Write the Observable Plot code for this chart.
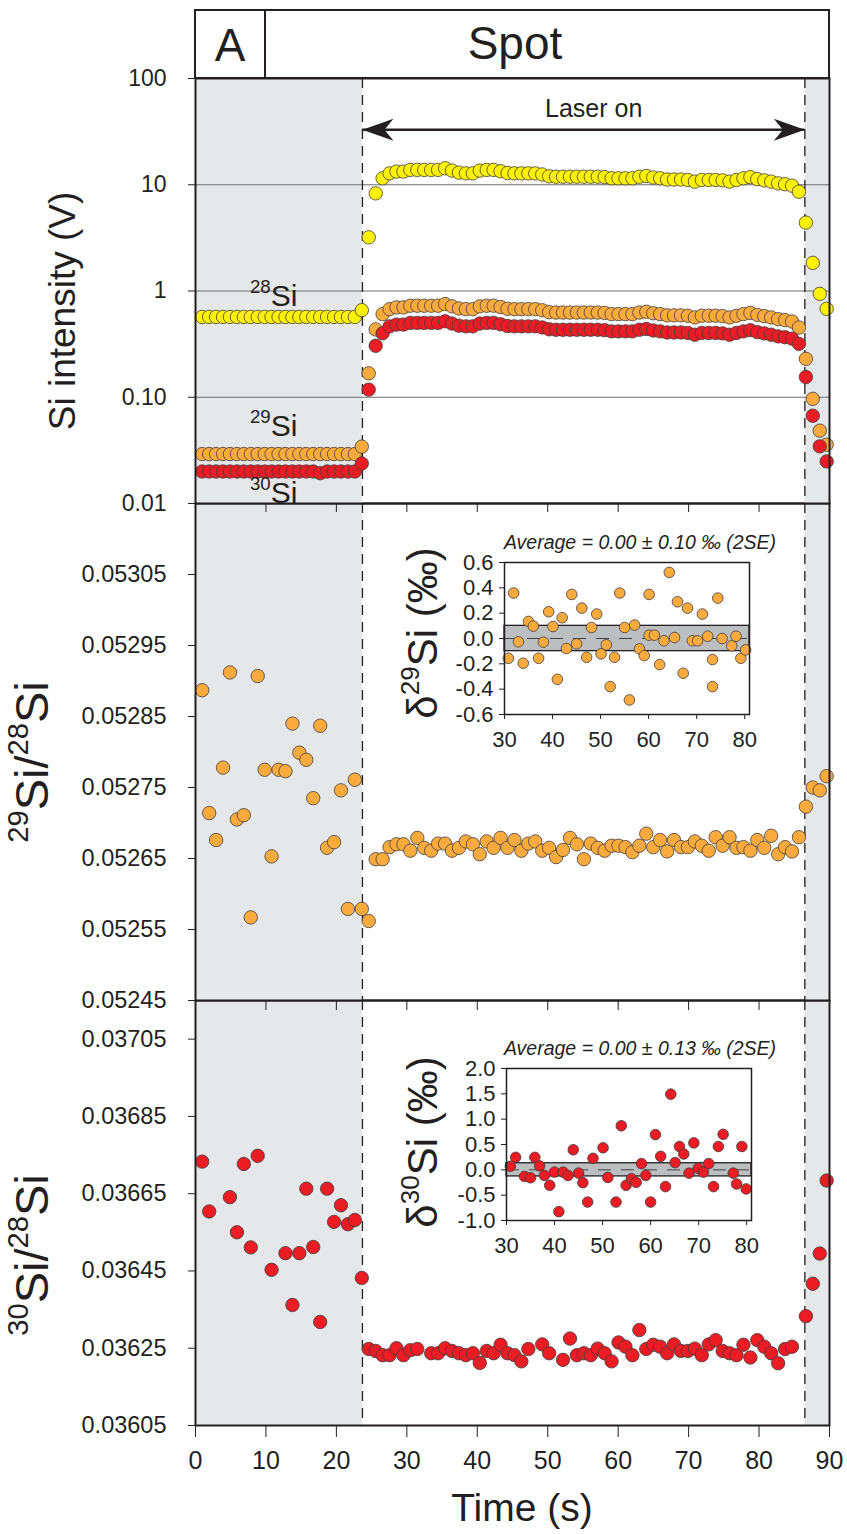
<!DOCTYPE html>
<html><head><meta charset="utf-8"><title>Si isotope laser ablation spot</title>
<script src="https://cdn.jsdelivr.net/npm/d3@7"></script>
<script src="https://cdn.jsdelivr.net/npm/@observablehq/plot@0.6"></script>
<style>
html,body{margin:0;padding:0;background:#fff;}
#chart{position:relative;width:847px;height:1534px;overflow:hidden;}
</style></head><body><div id="chart"></div>
<script>
// ---------------- data ----------------
const time = [0.95,1.94,2.92,3.91,4.89,5.88,6.86,7.85,8.83,9.82,10.80,11.79,12.77,13.76,14.74,15.73,16.71,17.70,18.68,19.67,
  20.65,21.64,22.62,23.61,24.59,25.58,26.56,27.55,28.53,29.52,30.50,31.49,32.47,33.46,34.44,35.43,36.41,37.40,38.38,39.37,
  40.35,41.34,42.32,43.31,44.29,45.28,46.26,47.25,48.23,49.22,50.20,51.19,52.17,53.16,54.14,55.13,56.11,57.10,58.08,59.07,
  60.05,61.04,62.02,63.01,63.99,64.98,65.96,66.95,67.93,68.92,69.90,70.89,71.87,72.86,73.84,74.83,75.81,76.80,77.78,78.77,
  79.75,80.74,81.72,82.71,83.69,84.68,85.66,86.65,87.63,88.62,89.60];

const si28 = [0.57,0.57,0.57,0.57,0.57,0.57,0.57,0.57,0.57,0.57,0.57,0.57,0.57,0.57,0.57,0.57,0.57,0.57,0.57,0.57,0.57,0.57,0.57,
  0.66,3.2,8.3,
  11.5,12.8,13.3,13.3,13.8,13.8,13.8,13.8,13.8,14.3,
  13.6,13.0,12.8,12.8,13.6,13.8,13.8,13.4,12.9,12.8,
  12.8,12.8,12.8,12.5,12.0,11.9,11.9,11.9,11.9,11.9,
  11.9,11.9,11.8,11.5,11.5,11.5,11.5,11.9,12.1,11.7,
  11.5,11.2,11.2,11.2,11.1,10.7,11.1,11.1,11.1,11.0,
  10.7,11.1,11.5,11.8,11.3,11.0,10.7,10.3,10.1,9.8,
  8.6,4.4,1.84,0.94,0.68];

const si29 = [0.0292,0.0292,0.0292,0.0292,0.0292,0.0292,0.0292,0.0292,0.0292,0.0292,0.0292,0.0292,0.0292,0.0292,0.0292,0.0292,0.0292,0.0292,0.0292,0.0292,0.0292,0.0292,0.0292,
  0.0343,0.168,0.435,
  0.606,0.675,0.701,0.701,0.727,0.727,0.727,0.727,0.727,0.754,
  0.717,0.685,0.675,0.675,0.717,0.727,0.727,0.706,0.680,0.675,
  0.675,0.675,0.675,0.659,0.632,0.627,0.627,0.627,0.627,0.627,
  0.627,0.627,0.622,0.606,0.606,0.606,0.606,0.627,0.638,0.617,
  0.606,0.590,0.590,0.590,0.585,0.564,0.585,0.585,0.585,0.580,
  0.564,0.585,0.606,0.622,0.596,0.580,0.564,0.543,0.532,0.516,
  0.453,0.230,0.0966,0.0485,0.0358];

const si30 = [0.0200,0.0200,0.0200,0.0200,0.0200,0.0200,0.0200,0.0200,0.0200,0.0200,0.0200,0.0200,0.0200,0.0200,0.0200,0.0200,0.0200,0.0193,0.0200,0.0200,0.0200,0.0200,0.0200,
  0.0238,0.118,0.305,
  0.400,0.465,0.483,0.483,0.501,0.501,0.501,0.501,0.501,0.519,
  0.494,0.472,0.465,0.465,0.494,0.501,0.501,0.486,0.468,0.465,
  0.465,0.465,0.465,0.454,0.436,0.432,0.432,0.432,0.432,0.432,
  0.432,0.432,0.428,0.417,0.417,0.417,0.417,0.432,0.439,0.425,
  0.417,0.407,0.407,0.407,0.403,0.388,0.403,0.403,0.403,0.399,
  0.388,0.403,0.417,0.428,0.410,0.399,0.388,0.374,0.367,0.356,
  0.318,0.155,0.067,0.0345,0.0249];

const ratio29 = [0.052887,0.052714,0.052676,0.052778,0.052912,0.052705,0.052711,0.052567,0.052907,0.052775,
  0.052653,0.052775,0.052773,0.052840,0.052799,0.052789,0.052735,0.052837,0.052665,0.052673,
  0.052746,0.052579,0.052761,0.052579,0.052562,
  0.052649,0.052649,0.052666,0.052670,0.052670,0.052661,0.052679,0.052665,0.052661,0.052671,
  0.052671,0.052661,0.052665,0.052674,0.052670,0.052656,0.052674,0.052665,0.052679,0.052665,
  0.052676,0.052661,0.052671,0.052674,0.052661,0.052665,0.052652,0.052662,0.052679,0.052670,
  0.052649,0.052671,0.052665,0.052661,0.052668,0.052668,0.052666,0.052659,0.052668,0.052685,
  0.052666,0.052676,0.052660,0.052676,0.052666,0.052666,0.052674,0.052668,0.052661,0.052680,
  0.052668,0.052680,0.052665,0.052666,0.052661,0.052676,0.052665,0.052682,0.052656,0.052666,
  0.052660,0.052680,
  0.052723,0.052750,0.052746,0.052766];

const ratio30 = [0.036733,0.036604,null,null,0.036641,0.036550,0.036727,0.036511,0.036748,null,
  0.036453,null,0.036496,0.036362,0.036496,0.036663,0.036512,0.036318,0.036663,0.036577,
  0.036620,0.036571,0.036582,0.036432,
  0.036248,0.036243,0.036232,0.036232,0.036250,0.036232,0.036245,0.036248,null,0.036237,
  0.036237,0.036250,0.036243,0.036237,0.036232,0.036237,0.036212,0.036243,0.036237,0.036259,
  0.036237,0.036232,0.036216,0.036248,null,0.036260,0.036237,null,0.036220,0.036275,
  0.036232,0.036237,0.036232,0.036249,0.036237,0.036216,0.036265,0.036254,0.036232,0.036297,
  0.036248,0.036259,0.036254,0.036237,0.036260,0.036243,0.036243,0.036249,0.036232,0.036260,
  0.036271,0.036243,0.036237,0.036232,0.036259,0.036226,0.036271,0.036254,0.036237,0.036211,
  0.036248,0.036254,null,
  0.036333,0.036417,0.036495,0.036684];

const d29Time = [30.8,31.9,32.9,33.9,35.0,36.0,37.1,38.1,39.2,40.1,41.0,42.0,42.9,44.0,45.0,46.1,47.1,48.1,49.2,50.1,
  51.2,52.0,52.9,54.0,55.0,56.0,57.1,58.1,59.1,60.1,60.1,61.2,62.3,63.2,64.3,65.4,66.0,67.2,68.1,69.1,
  70.2,71.2,72.3,73.3,73.3,74.4,75.3,77.3,78.2,79.2,80.2];
const d29Value = [-0.156,0.359,-0.026,-0.195,0.135,0.098,-0.156,-0.029,0.211,0.095,-0.322,0.164,-0.079,0.348,-0.042,0.240,-0.148,0.087,0.193,-0.121,
  -0.050,-0.380,-0.148,0.359,0.087,-0.485,0.106,-0.082,-0.135,0.348,0.026,0.026,-0.206,-0.018,0.522,0.008,0.290,-0.274,0.240,-0.018,
  -0.018,0.193,0.018,-0.166,-0.380,0.319,0.000,-0.058,0.018,-0.156,-0.090];

const d30Time = [30.8,31.9,33.75,35.0,35.9,36.9,37.9,39.0,40.0,40.9,41.8,42.8,43.9,45.0,45.9,46.9,48.0,50.1,51.1,52.8,
  53.9,54.9,56.0,57.0,58.1,59.0,60.0,61.0,62.1,63.1,64.2,65.1,66.0,66.9,68.0,69.0,69.9,71.0,72.1,73.1,
  74.1,75.1,77.2,77.9,79.0,79.9];
const d30Value = [0.071,0.247,-0.130,-0.156,0.247,0.078,-0.110,-0.305,-0.045,-0.825,-0.045,-0.110,0.396,-0.065,-0.253,-0.636,0.227,0.435,-0.149,-0.636,
  0.870,-0.305,-0.175,-0.247,0.123,-0.110,-0.636,0.695,0.266,-0.331,1.494,0.143,0.461,0.312,-0.065,0.532,0.032,-0.045,0.123,-0.331,
  0.461,0.701,-0.065,-0.279,0.461,-0.377];

const xTicks = [0,10,20,30,40,50,60,70,80,90];
const intensityTicks = [0.01,0.1,1,10,100];
const intensityTickLabels = ["0.01","0.10","1","10","100"];
const intensityGrid = [0.1,1,10];
const ratio29Ticks = [0.05245,0.05255,0.05265,0.05275,0.05285,0.05295,0.05305];
const ratio30Ticks = [0.03605,0.03625,0.03645,0.03665,0.03685,0.03705];
const d29Ticks = [-0.6,-0.4,-0.2,0,0.2,0.4,0.6];
const d30Ticks = [-1,-0.5,0,0.5,1,1.5,2];
const insetXTicks = [30,40,50,60,70,80];
const boundaries = [23.7, 86.5];
const shade = [{x1: 0, x2: 23.7}, {x1: 86.5, x2: 90}];
const laser = [{start: 23.7, end: 86.5, level: 33, label: "Laser on"}];
const d29Band = [{lo: -0.10, hi: 0.10}];
const d30Band = [{lo: -0.13, hi: 0.13}];

// ---------------- styles ----------------
const INK = "#231f20";
const YELLOW = "#fff200", ORANGE = "#fbab3e", RED = "#ec1c24", GREY = "#e6e7e8";
const FONT = '"Liberation Sans", Arial, Helvetica, sans-serif';
const NARROW = '"Liberation Sans Narrow", "Liberation Sans", Arial, sans-serif';
const dotStyle = (fill, r = 6.7) => ({r, fill, stroke: "#3c3c3c", strokeWidth: 0.8});

const series = time.map((t, i) => ({t, si28: si28[i], si29: si29[i], si30: si30[i], r29: ratio29[i], r30: ratio30[i]}));
const d29 = d29Time.map((t, i) => ({t, v: d29Value[i]}));
const d30 = d30Time.map((t, i) => ({t, v: d30Value[i]}));

const arrowRight = {draw(c) { c.moveTo(0, 0); c.lineTo(-31, -11); c.lineTo(-22, 0); c.lineTo(-31, 11); c.closePath(); }};
const arrowLeft = {draw(c) { c.moveTo(0, 0); c.lineTo(31, -11); c.lineTo(22, 0); c.lineTo(31, 11); c.closePath(); }};

const W = 847, ML = 195, MR = 18;
const base = (height, mt, mb) => ({
  width: W, height, marginLeft: ML, marginRight: MR, marginTop: mt, marginBottom: mb,
  x: {domain: [0, 90]},
  style: {background: "transparent", overflow: "visible", fontFamily: FONT, color: INK}
});
const chart = document.getElementById("chart");
function place(svg, left, top, z) {
  svg.style.position = "absolute";
  svg.style.left = left + "px";
  svg.style.top = top + "px";
  svg.style.zIndex = z;
  svg.style.maxWidth = "none";
  chart.appendChild(svg);
}
const backdrop = [
  Plot.rect(shade, {x1: "x1", x2: "x2", fill: GREY}),
];
const dashed = Plot.ruleX(boundaries, {stroke: INK, strokeWidth: 1.3, strokeDasharray: "10,7"});

// ---------------- panel 1: intensities ----------------
const p1 = Plot.plot({
  ...base(445, 10, 10),
  y: {type: "log", domain: [0.01, 100]},
  marks: [
    ...backdrop,
    Plot.ruleY(intensityGrid, {stroke: "#6d6e71", strokeWidth: 1}),
    dashed,
    Plot.ruleY(laser, {y: "level", x1: "start", x2: "end", stroke: INK, strokeWidth: 2.5}),
    Plot.dot(laser, {x: "start", y: "level", symbol: arrowLeft, fill: INK, stroke: "none"}),
    Plot.dot(laser, {x: "end", y: "level", symbol: arrowRight, fill: INK, stroke: "none"}),
    Plot.text(laser, {x: d => (d.start + d.end) / 2, y: "level", text: "label", dx: 10, dy: -21, fontSize: 25, fill: INK}),
    Plot.dot(series, {x: "t", y: "si28", ...dotStyle(YELLOW)}),
    Plot.dot(series, {x: "t", y: "si29", ...dotStyle(ORANGE)}),
    Plot.dot(series, {x: "t", y: "si30", ...dotStyle(RED)}),
    Plot.axisY({ticks: intensityTicks, tickFormat: d => intensityTickLabels[intensityTicks.indexOf(d)], tickSize: 7, tickPadding: 22, fontSize: 23, label: null}),
    Plot.axisX({ticks: xTicks, tickSize: 9, tickFormat: () => "", label: null}),
    Plot.frame({stroke: INK, strokeWidth: 2})
  ]
});
place(p1, 0, 68, 3);

// ---------------- panel 2: 29Si/28Si ----------------
const p2 = Plot.plot({
  ...base(519, 10, 12),
  y: {domain: [0.05245, 0.05315]},
  marks: [
    ...backdrop,
    dashed,
    Plot.dot(series, {x: "t", y: "r29", ...dotStyle(ORANGE)}),
    Plot.axisY({ticks: ratio29Ticks, tickFormat: d => d.toFixed(5), tickSize: 7, tickPadding: 22, fontSize: 23.5, label: null}),
    Plot.axisX({ticks: xTicks, tickSize: 10, tickFormat: () => "", label: null}),
    Plot.frame({stroke: INK, strokeWidth: 2})
  ]
});
place(p2, 0, 493, 2);

// ---------------- panel 3: 30Si/28Si ----------------
const p3 = Plot.plot({
  ...base(535, 10, 100),
  y: {domain: [0.03605, 0.03715]},
  marks: [
    ...backdrop,
    dashed,
    Plot.dot(series, {x: "t", y: "r30", ...dotStyle(RED)}),
    Plot.axisY({ticks: ratio30Ticks, tickFormat: d => d.toFixed(5), tickSize: 7, tickPadding: 22, fontSize: 23.5, label: null}),
    Plot.axisX({ticks: xTicks, tickSize: 12, tickPadding: 14, fontSize: 25, fontFamily: NARROW, label: null}),
    Plot.frame({stroke: INK, strokeWidth: 2})
  ]
});
place(p3, 0, 990, 1);

// ---------------- insets ----------------
function inset(data, band, yDomain, yTicks, fill, yFmt) {
  return Plot.plot({
    width: 345, height: 222, marginLeft: 60, marginRight: 40, marginTop: 30, marginBottom: 40,
    x: {domain: [30, 81]}, y: {domain: yDomain},
    style: {background: "transparent", overflow: "visible", fontFamily: FONT, color: INK},
    marks: [
      Plot.rect(band, {y1: "lo", y2: "hi", fill: "#bcbec0", stroke: INK, strokeWidth: 1.3}),
      Plot.ruleY([0], {stroke: "#414042", strokeWidth: 1, strokeDasharray: "13,10"}),
      Plot.dot(data, {x: "t", y: "v", ...dotStyle(fill, 5.3)}),
      Plot.axisY({ticks: yTicks, tickFormat: yFmt, tickSize: 5, tickPadding: 6, fontSize: 22, label: null}),
      Plot.axisX({ticks: insetXTicks, tickSize: 5, tickPadding: 12, fontSize: 22, label: null}),
      Plot.frame({stroke: INK, strokeWidth: 1.5})
    ]
  });
}
place(inset(d29, d29Band, [-0.6, 0.6], d29Ticks, ORANGE, d => d.toFixed(1)), 444, 532, 4);
place(inset(d30, d30Band, [-1, 2], d30Ticks, RED, d => d.toFixed(1)), 446, 1038, 4);

// ---------------- text overlay (titles, labels) ----------------
const ov = d3.select(chart).append("svg")
  .attr("width", W).attr("height", 1534)
  .style("position", "absolute").style("left", "0px").style("top", "0px").style("z-index", 10)
  .style("pointer-events", "none").style("overflow", "visible")
  .attr("font-family", FONT).attr("fill", INK);

function rich(parent, {x, y, size, anchor = "start", rotate = 0, italic = false, parts, family, supScale = 0.62}) {
  const t = parent.append("text")
    .attr("transform", `translate(${x},${y}) rotate(${rotate})`)
    .attr("text-anchor", anchor).attr("font-size", size).attr("fill", INK);
  if (italic) t.attr("font-style", "italic");
  if (family) t.attr("font-family", family);
  let shift = 0;
  for (const [s, sup] of parts) {
    const want = sup ? -0.42 * size : 0;
    t.append("tspan").attr("font-size", sup ? size * supScale : size).attr("dy", want - shift).text(s);
    shift = want;
  }
  return t;
}

// header box
ov.append("rect").attr("x", 195).attr("y", 10).attr("width", 634).attr("height", 68)
  .attr("fill", "white").attr("stroke", INK).attr("stroke-width", 2);
ov.append("line").attr("x1", 265).attr("x2", 265).attr("y1", 10).attr("y2", 78).attr("stroke", INK).attr("stroke-width", 2);
rich(ov, {x: 230, y: 61, size: 46, anchor: "middle", parts: [["A", false]]});
rich(ov, {x: 515, y: 59, size: 46, anchor: "middle", parts: [["Spot", false]]});

// isotope labels in top panel
rich(ov, {x: 250, y: 306, size: 30, parts: [["28", true], ["Si", false]]});
rich(ov, {x: 250, y: 436, size: 30, parts: [["29", true], ["Si", false]]});
rich(ov, {x: 250, y: 503, size: 30, parts: [["30", true], ["Si", false]]});

// axis titles
rich(ov, {x: 75, y: 311, size: 37, anchor: "middle", rotate: -90, parts: [["Si intensity (V)", false]]});
rich(ov, {x: 48, y: 762, size: 47, anchor: "middle", rotate: -90, parts: [["29", true], ["Si/", false], ["28", true], ["Si", false]]});
rich(ov, {x: 48, y: 1255, size: 47, anchor: "middle", rotate: -90, parts: [["30", true], ["Si/", false], ["28", true], ["Si", false]]});
rich(ov, {x: 522, y: 1521, size: 39, anchor: "middle", parts: [["Time (s)", false]]});

// inset titles and labels
rich(ov, {x: 640, y: 549, size: 19.5, anchor: "middle", italic: true, parts: [["Average = 0.00 \u00b1 0.10 \u2030 (2SE)", false]]});
rich(ov, {x: 640, y: 1055, size: 19.5, anchor: "middle", italic: true, parts: [["Average = 0.00 \u00b1 0.13 \u2030 (2SE)", false]]});
rich(ov, {x: 437, y: 633, size: 42, anchor: "middle", rotate: -90, parts: [["\u03b4", false], ["29", true], ["Si (\u2030)", false]]});
rich(ov, {x: 437, y: 1142, size: 42, anchor: "middle", rotate: -90, parts: [["\u03b4", false], ["30", true], ["Si (\u2030)", false]]});
</script></body></html>
